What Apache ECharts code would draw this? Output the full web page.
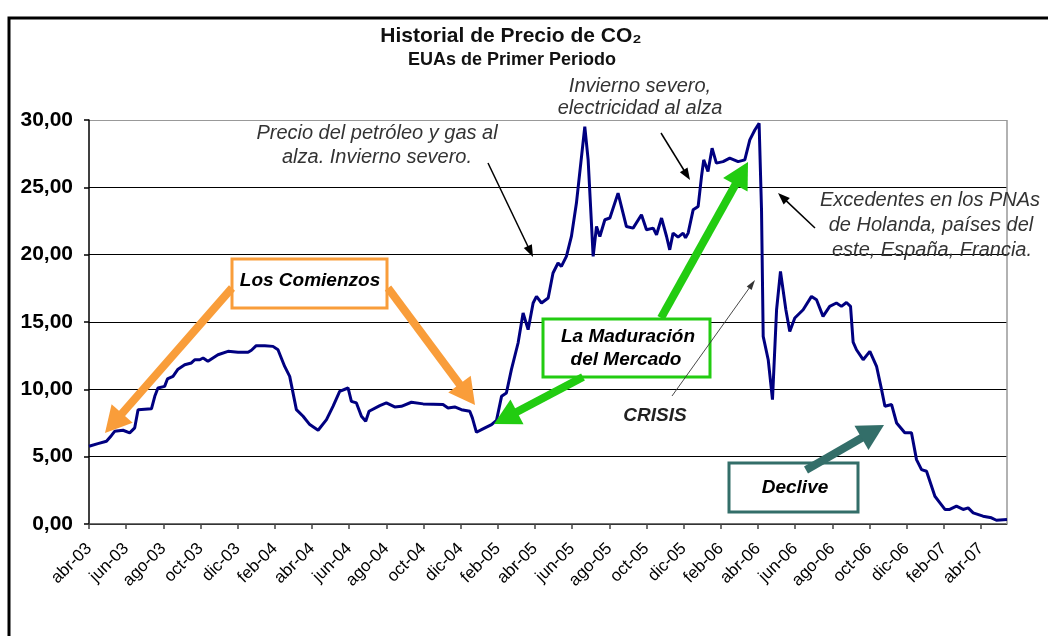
<!DOCTYPE html>
<html>
<head>
<meta charset="utf-8">
<script src="https://cdn.jsdelivr.net/npm/echarts@6/dist/echarts.min.js"></script>
<style>
  html, body { margin: 0; padding: 0; background: #fff; }
  #chart { width: 1048px; height: 636px; }
</style>
</head>
<body>
<div id="chart"></div>
<script>
// etiquetas del eje X (cada 2 meses desde abr-03)
var monthLabels = ["abr-03", "jun-03", "ago-03", "oct-03", "dic-03", "feb-04", "abr-04", "jun-04", "ago-04",
  "oct-04", "dic-04", "feb-05", "abr-05", "jun-05", "ago-05", "oct-05", "dic-05", "feb-06", "abr-06",
  "jun-06", "ago-06", "oct-06", "dic-06", "feb-07", "abr-07"];
var labelTicks = [0, 2, 4, 6, 8, 10, 12, 14, 16, 18, 20, 22, 24, 26, 28, 30, 32, 34, 36, 38, 40, 42, 44, 46, 48];

// meses transcurridos desde abr-03 (posición de cada observación)
var months = [0, 0.48, 0.94, 1.2, 1.38, 1.83, 2.19, 2.46, 2.64, 3.36, 3.54, 3.71, 4.07, 4.22, 4.52, 4.79,
  5.15, 5.51, 5.69, 5.96, 6.14, 6.4, 6.67, 6.94, 7.48, 8.02, 8.56, 8.74, 9.0, 9.46, 9.9, 10.17, 10.53,
  10.8, 11.16, 11.52, 11.88, 12.33, 12.78, 13.13, 13.49, 13.94, 14.12, 14.39, 14.66, 14.89, 15.07, 15.65,
  16.0, 16.45, 16.81, 17.35, 17.98, 19.05, 19.32, 19.68, 20.04, 20.49, 20.63, 20.85, 21.2, 21.66, 21.93,
  22.2, 22.46, 22.73, 23.09, 23.36, 23.63, 23.9, 24.08, 24.35, 24.71, 24.97, 25.24, 25.42, 25.69, 25.96,
  26.23, 26.68, 26.86, 27.13, 27.31, 27.49, 27.76, 28.03, 28.47, 28.92, 29.28, 29.73, 30.0, 30.36, 30.54,
  30.81, 31.08, 31.25, 31.43, 31.7, 31.97, 32.1, 32.24, 32.51, 32.78, 32.96, 33.08, 33.31, 33.53, 33.76,
  34.12, 34.48, 34.93, 35.29, 35.56, 35.83, 36.06, 36.19, 36.28, 36.55, 36.78, 37.0, 37.21, 37.5, 37.71,
  37.98, 38.43, 38.88, 39.15, 39.5, 39.86, 40.22, 40.49, 40.76, 40.98, 41.12, 41.3, 41.66, 42.02, 42.38,
  42.65, 42.83, 43.19, 43.46, 43.9, 44.26, 44.53, 44.8, 45.07, 45.52, 45.79, 46.06, 46.32, 46.68, 47.04,
  47.31, 47.58, 48.11, 48.56, 48.83, 49.4];
// precio EUA (€/t)
var prices = [5.77, 5.97, 6.14, 6.56, 6.88, 6.96, 6.77, 7.14, 8.49, 8.55, 9.48, 10.1, 10.22, 10.77, 10.96, 11.5,
  11.83, 11.96, 12.2, 12.2, 12.33, 12.08, 12.33, 12.57, 12.82, 12.75, 12.75, 12.9, 13.24, 13.24, 13.19, 12.94, 11.7,
  10.96, 8.49, 8.0, 7.38, 6.96, 7.75, 8.74, 9.85, 10.1, 9.11, 8.99, 8.0, 7.63, 8.37, 8.79,
  8.99, 8.69, 8.74, 9.04, 8.92, 8.87, 8.62, 8.69, 8.49, 8.37, 7.88, 6.81, 7.06, 7.38, 7.7,
  9.48, 9.73, 11.46, 13.44, 15.67, 14.43, 16.41, 16.9, 16.41, 16.78, 18.64, 19.38, 19.13, 19.87, 21.35,
  23.83, 29.51, 27.04, 19.87, 22.09, 21.35, 22.59, 22.72, 24.57, 22.09, 21.97, 22.96, 21.85, 21.97, 21.48,
  22.72, 21.35, 20.36, 21.6, 21.3, 21.6, 21.25, 21.6, 23.33, 23.58, 25.8, 27.04, 26.17, 27.91, 26.8,
  26.91, 27.17, 26.91, 27.04, 28.52, 29.26, 29.76, 23.33, 13.93, 12.2, 9.24, 15.91, 18.75, 15.91, 14.3,
  15.3, 15.91, 16.9, 16.65, 15.42, 16.16, 16.41, 16.16, 16.45, 16.16, 13.5, 12.94, 12.2, 12.82, 11.71,
  9.98, 8.74, 8.87, 7.5, 6.77, 6.77, 4.78, 4.04, 3.92, 2.06, 1.57, 1.08, 1.08, 1.32, 1.08,
  1.2, 0.83, 0.58, 0.46, 0.28, 0.33];

var seriesData = [];
for (var i = 0; i < months.length; i++) {
  seriesData.push([months[i], prices[i]]);
}

var chart = echarts.init(document.getElementById("chart"));

// flecha: línea + punta triangular
function arrow(x1, y1, x2, y2, color, w, headLen, headW) {
  var dx = x2 - x1, dy = y2 - y1;
  var len = Math.sqrt(dx * dx + dy * dy);
  var ux = dx / len, uy = dy / len;
  var bx = x2 - ux * headLen, by = y2 - uy * headLen;
  var px = -uy * headW / 2, py = ux * headW / 2;
  return [
    { type: "line", shape: { x1: x1, y1: y1, x2: bx + ux * 2, y2: by + uy * 2 }, style: { stroke: color, lineWidth: w }, z: 10 },
    { type: "polygon", shape: { points: [[x2, y2], [bx + px, by + py], [bx - px, by - py]] }, style: { fill: color }, z: 10 }
  ];
}

function label(x, y, text, font, color) {
  return { type: "text", x: x, y: y, style: { text: text, font: font, fill: color || "#333", align: "center", verticalAlign: "middle" }, z: 11 };
}

function box(x, y, w, h, color) {
  return { type: "rect", shape: { x: x, y: y, width: w, height: h }, style: { fill: "#fff", stroke: color, lineWidth: 3 }, z: 9 };
}

var orange = "#f99d3a";
var green = "#22cc11";
var teal = "#336e69";
var italic = "italic 20px 'Liberation Sans', Arial, sans-serif";
var boxFont = "italic bold 19px 'Liberation Sans', Arial, sans-serif";

var graphics = [
  // marco exterior
  { type: "rect", shape: { x: 9, y: 18, width: 1100, height: 700 }, style: { fill: null, stroke: "#000", lineWidth: 3 }, z: 0 },
  // borde del área de trazado
  { type: "line", shape: { x1: 1007, y1: 120, x2: 1007, y2: 524 }, style: { stroke: "#999", lineWidth: 1.5 }, z: 1 },
  label(511, 36, "Historial de Precio de CO₂", "bold 21px 'Liberation Sans', Arial, sans-serif", "#111"),
  label(512, 60, "EUAs de Primer Periodo", "bold 18px 'Liberation Sans', Arial, sans-serif", "#111"),
  label(377, 133, "Precio del petróleo y gas al", italic),
  label(377, 157, "alza. Invierno severo.", italic),
  label(640, 86, "Invierno severo,", italic),
  label(640, 108, "electricidad al alza", italic),
  label(930, 200, "Excedentes en los PNAs", italic),
  label(931, 225, "de Holanda, países del", italic),
  label(932, 250, "este, España, Francia.", italic),
  label(655, 416, "CRISIS", "italic bold 19px 'Liberation Sans', Arial, sans-serif", "#222"),
  box(232, 259, 155, 49, orange),
  label(310, 281, "Los Comienzos", boxFont, "#000"),
  box(543, 319, 167, 58, green),
  label(628, 337, "La Maduración", boxFont, "#000"),
  label(626, 360, "del Mercado", boxFont, "#000"),
  box(729, 463, 129, 49, teal),
  label(795, 488, "Declive", boxFont, "#000")
];
graphics = graphics
  .concat(arrow(488, 163, 533, 257, "#000", 1.5, 12, 9))
  .concat(arrow(661, 133, 690, 180, "#000", 1.5, 12, 9))
  .concat(arrow(815, 228, 778, 193, "#000", 1.5, 12, 9))
  .concat(arrow(672, 396, 755, 280, "#333", 0.9, 10, 6))
  .concat(arrow(232, 288, 105, 433, orange, 8, 26, 28))
  .concat(arrow(388, 288, 475, 405, orange, 8, 26, 28))
  .concat(arrow(583, 377, 494, 424, green, 8, 26, 28))
  .concat(arrow(661, 318, 748, 162, green, 8, 26, 28))
  .concat(arrow(806, 470, 884, 425, teal, 8, 26, 28));

var option = {
  animation: false,
  grid: { left: 89, right: 41, top: 120, bottom: 112, containLabel: false },
  xAxis: {
    type: "value",
    min: 0,
    max: 49.4,
    splitLine: { show: false },
    axisLine: { lineStyle: { color: "#444", width: 1.5 } },
    axisTick: { show: true, length: 5, customValues: labelTicks, lineStyle: { color: "#444", width: 1.5 } },
    axisLabel: {
      customValues: labelTicks,
      rotate: 45,
      margin: 22,
      fontSize: 17,
      fontFamily: "'Liberation Sans', Arial, sans-serif",
      color: "#000",
      formatter: function (v) { return monthLabels[Math.round(v / 2)] || ""; }
    }
  },
  yAxis: {
    type: "value",
    min: 0,
    max: 30,
    interval: 5,
    axisLine: { show: true, lineStyle: { color: "#000", width: 1.5 } },
    axisTick: { show: true, length: 5, lineStyle: { color: "#000", width: 1.5 } },
    splitLine: { show: true, lineStyle: { color: ["#000", "#000", "#000", "#000", "#000", "#000", "#999"], width: 1.2 } },
    axisLabel: {
      margin: 16,
      fontSize: 21,
      fontWeight: "bold",
      fontFamily: "'Liberation Sans', Arial, sans-serif",
      color: "#000",
      formatter: function (v) { return v.toFixed(2).replace(".", ","); }
    }
  },
  series: [{
    type: "line",
    data: seriesData,
    showSymbol: false,
    lineStyle: { color: "#000080", width: 3 },
    z: 3
  }],
  graphic: graphics
};

chart.setOption(option);
window.addEventListener("resize", function () { chart.resize(); });
</script>
</body>
</html>
